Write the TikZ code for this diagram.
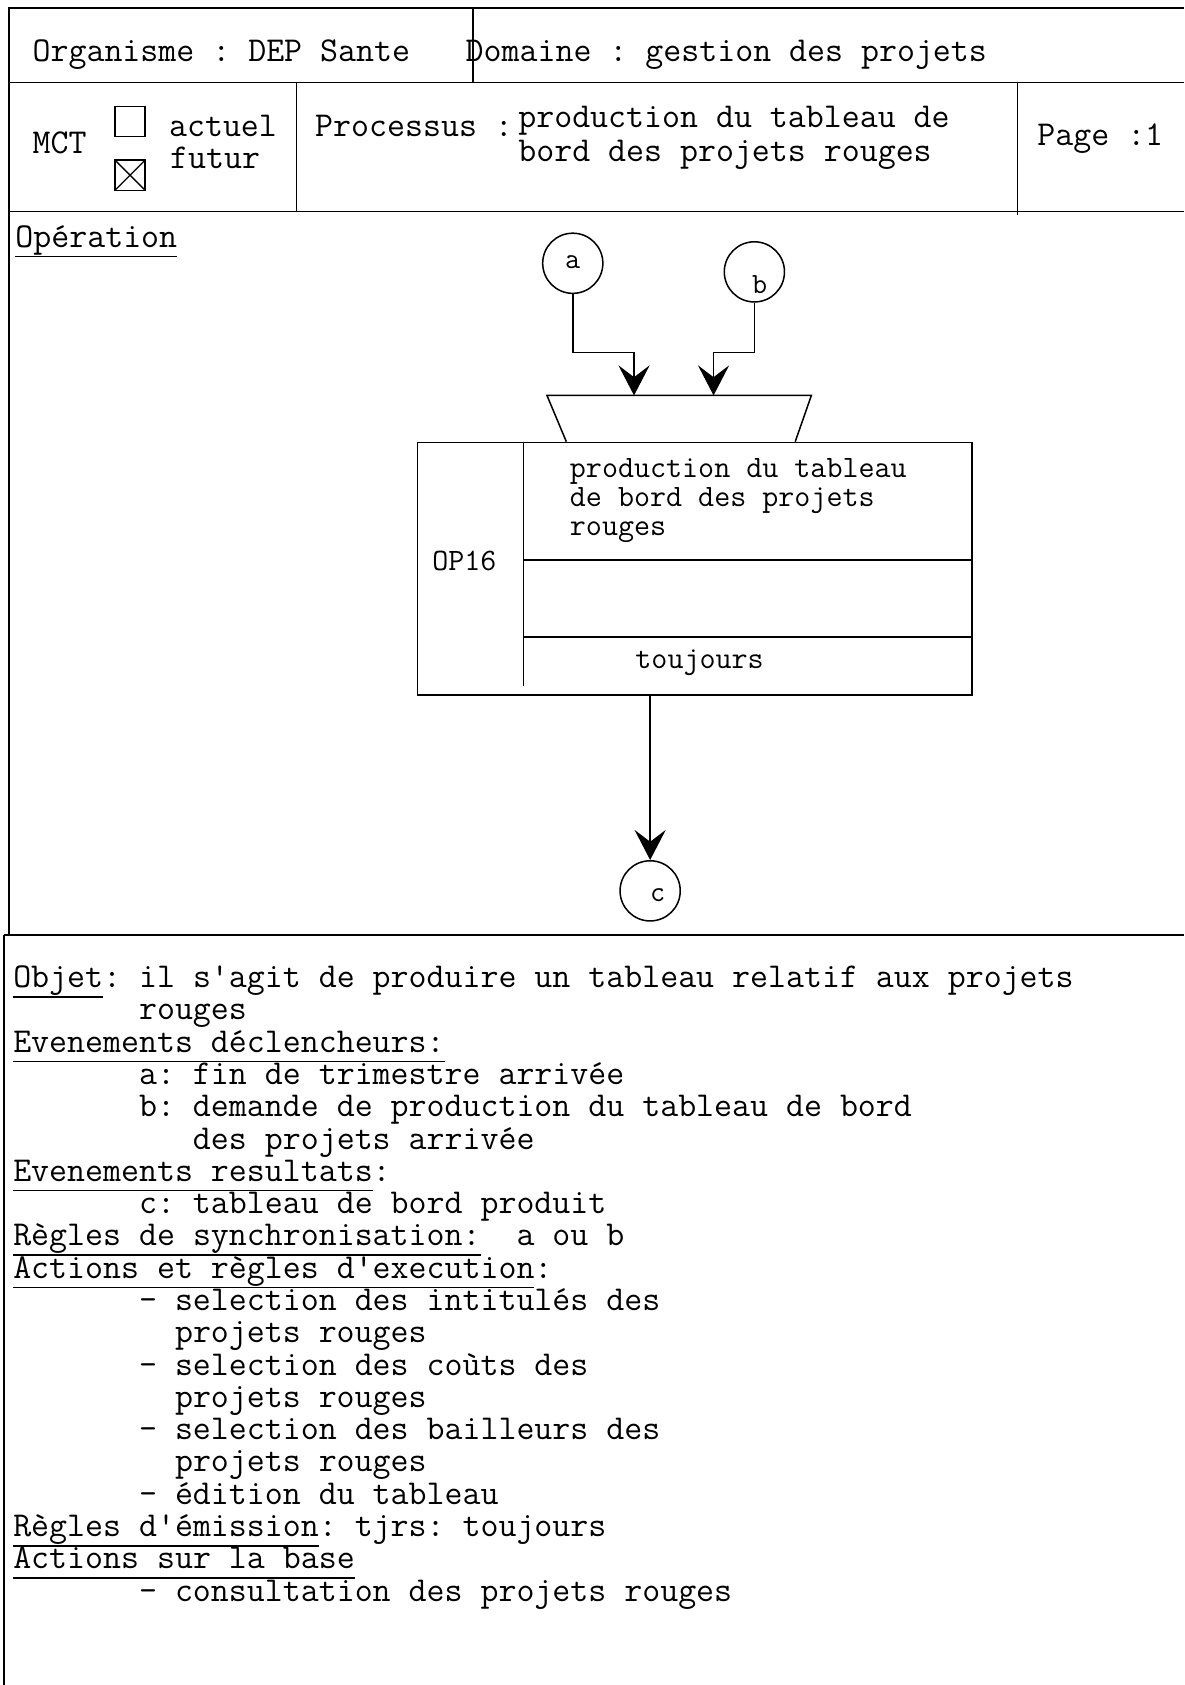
\documentclass[tikz,border=0pt]{standalone}
\usepackage{fontspec}
\setmonofont{Latin Modern Mono}
\usetikzlibrary{arrows.meta, calc}

\newcommand{\souligne}[1]{\begingroup\setbox0=\hbox{#1}\rlap{\rule[-0.29em]{\wd0}{0.9pt}}\box0\endgroup}
\newcommand{\retrait}[1]{\hspace*{#1\fontcharwd\font`a}}

\begin{document}
\begin{tikzpicture}[
  trait/.style={line width=0.8pt},
  texte/.style={anchor=base west, inner sep=0pt, font=\ttfamily\fontsize{18.48pt}{19.5pt}\selectfont},
  petit/.style={anchor=base west, inner sep=0pt, font=\ttfamily\fontsize{16.49pt}{17.5pt}\selectfont},
  evt/.style={circle, draw, line width=0.8pt, minimum size=1.12cm, inner sep=0pt},
  lettre/.style={font=\ttfamily\fontsize{15.5pt}{16pt}\selectfont},
  fleche/.style={line width=0.8pt, -{Stealth[length=0.56cm, width=0.58cm, inset=0.22cm]}}
]
  \useasboundingbox (0,0) rectangle (22.04,-31.36);

  % cadre de la fiche
  \draw[trait] (0.17,-17.4) -- (0.17,-0.15) -- (22.04,-0.15);
  \draw[trait] (0.17,-1.54) -- (22.04,-1.54);
  \draw[trait] (8.8,-0.15) -- (8.8,-1.54);
  \draw[trait] (0.17,-3.94) -- (22.04,-3.94);
  \draw[trait] (5.52,-1.54) -- (5.52,-3.92);
  \draw[trait] (18.94,-1.54) -- (18.94,-4.0);
  \draw[trait] (0.07,-17.4) -- (22.04,-17.4);
  \draw[trait] (0.07,-17.4) -- (0.07,-31.36);

  % en-tete
  \node[texte] (org) at (0.60,-1.14) {Organisme : DEP Sante};
  \node[texte] (dom) at (8.66,-1.14) {Domaine : gestion des projets};
  \node[texte] (mct) at (0.60,-2.86) {MCT};
  \draw[line width=0.7pt] (2.14,-1.98) rectangle (2.70,-2.54);
  \draw[line width=0.7pt] (2.14,-2.98) rectangle (2.70,-3.54);
  \draw[line width=0.7pt] (2.14,-2.98) -- (2.70,-3.54) (2.14,-3.54) -- (2.70,-2.98);
  \node[texte] (actuel) at (3.14,-2.54) {actuel};
  \node[texte] (futur) at (3.16,-3.14) {futur};
  \node[texte] (proc) at (5.86,-2.54) {Processus :};
  \node[texte] (nom1) at (9.64,-2.38) {production du tableau de};
  \node[texte] (nom2) at (9.64,-3.00) {bord des projets rouges};
  \node[texte] (page) at (19.30,-2.70) {Page :1};

  % operation
  \node[texte] (titre) at (0.28,-4.60) {\souligne{Opération}};

  \node[evt, label={[lettre, yshift=0.02cm]center:a}] (a) at (10.66,-4.90) {};
  \node[evt, label={[lettre, xshift=0.1cm, yshift=-0.24cm]center:b}] (b) at (14.04,-5.06) {};
  \node[evt, label={[lettre, xshift=0.14cm, yshift=-0.08cm]center:c}] (c) at (12.10,-16.58) {};

  \draw[trait] (10.54,-8.22) -- (10.18,-7.36) -- (15.10,-7.36) -- (14.80,-8.22);
  \coordinate (ina) at (11.80,-7.36);
  \coordinate (inb) at (13.28,-7.36);

  \node[draw, line width=0.8pt, minimum width=10.32cm, minimum height=4.70cm, anchor=north west] (op) at (7.76,-8.22) {};
  \draw[trait] (9.74,-8.22) -- (9.74,-12.76);
  \draw[trait] (9.74,-10.42) -- (18.08,-10.42);
  \draw[trait] (9.74,-11.86) -- (18.08,-11.86);

  \node[petit] (op1) at (10.60,-8.88) {production du tableau};
  \node[petit] (op2) at (10.60,-9.42) {de bord des projets};
  \node[petit] (op3) at (10.60,-9.96) {rouges};
  \node[petit] (num) at (8.04,-10.62) {OP16};
  \node[petit, anchor=base] (regle) at (13.02,-12.44) {toujours};

  \draw[fleche] (a.south) |- ([yshift=0.8cm]ina) -- (ina);
  \draw[fleche] (b.south) |- ([yshift=0.8cm]inb) -- (inb);
  \draw[fleche] (c.north |- op.south) -- (c.north);

  % description
  \node[texte] (l1) at (0.24,-18.380) {\souligne{Objet}: il s'agit de produire un tableau relatif aux projets};
  \node[texte] (l2) at (0.24,-18.981) {\retrait{7}rouges};
  \node[texte] (l3) at (0.24,-19.582) {\souligne{Evenements déclencheurs:}};
  \node[texte] (l4) at (0.24,-20.183) {\retrait{7}a: fin de trimestre arrivée};
  \node[texte] (l5) at (0.24,-20.784) {\retrait{7}b: demande de production du tableau de bord};
  \node[texte] (l6) at (0.24,-21.385) {\retrait{10}des projets arrivée};
  \node[texte] (l7) at (0.24,-21.986) {\souligne{Evenements resultats}:};
  \node[texte] (l8) at (0.24,-22.587) {\retrait{7}c: tableau de bord produit};
  \node[texte] (l9) at (0.24,-23.188) {\souligne{Règles de synchronisation:}\retrait{2}a ou b};
  \node[texte] (l10) at (0.24,-23.789) {\souligne{Actions et règles d'execution}:};
  \node[texte] (l11) at (0.24,-24.390) {\retrait{7}- selection des intitulés des};
  \node[texte] (l12) at (0.24,-24.991) {\retrait{9}projets rouges};
  \node[texte] (l13) at (0.24,-25.592) {\retrait{7}- selection des coùts des};
  \node[texte] (l14) at (0.24,-26.193) {\retrait{9}projets rouges};
  \node[texte] (l15) at (0.24,-26.794) {\retrait{7}- selection des bailleurs des};
  \node[texte] (l16) at (0.24,-27.395) {\retrait{9}projets rouges};
  \node[texte] (l17) at (0.24,-27.996) {\retrait{7}- édition du tableau};
  \node[texte] (l18) at (0.24,-28.597) {\souligne{Règles d'émission}: tjrs: toujours};
  \node[texte] (l19) at (0.24,-29.198) {\souligne{Actions sur la base}};
  \node[texte] (l20) at (0.24,-29.799) {\retrait{7}- consultation des projets rouges};
\end{tikzpicture}
\end{document}
